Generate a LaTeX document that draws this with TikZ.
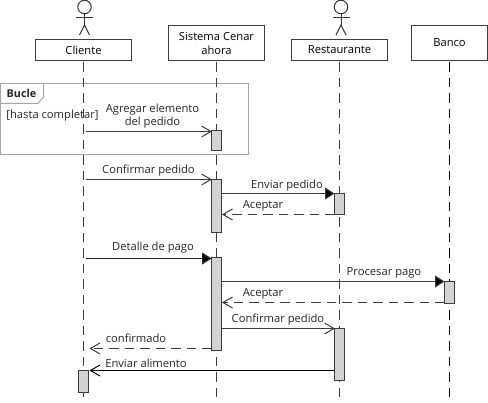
\documentclass[tikz,border=0pt]{standalone}
\usepackage{fontspec}
\setmainfont{Open Sans}
\usetikzlibrary{arrows.meta}
\definecolor{edge}{HTML}{3C3C3C}
\definecolor{act}{HTML}{D3D3D6}
\pgfdeclarearrow{
  name=VBarb,
  setup code={\pgfarrowssettipend{0pt}\pgfarrowssetlineend{-1pt}\pgfarrowssetvisualbackend{-10pt}\pgfarrowssetbackend{-10pt}},
  drawing code={\pgfsetdash{}{0pt}\pgfsetlinewidth{1pt}\pgfsetmiterjoin\pgfpathmoveto{\pgfpoint{-10pt}{5.5pt}}\pgfpathlineto{\pgfpoint{-0.5pt}{0pt}}\pgfpathlineto{\pgfpoint{-10pt}{-5.5pt}}\pgfusepathqstroke}
}
\tikzset{
  x=1pt,y=-1pt,
  outer sep=0pt,
  head/.style={draw=edge,line width=1.1pt,fill=white,anchor=north west,inner sep=0pt,align=center,font=\fontsize{11.2}{14}\selectfont},
  actbar/.style={draw=edge,line width=1.1pt,fill=act,inner sep=0pt,minimum width=10pt,anchor=north},
  life/.style={draw=edge,line width=1.1pt,dash pattern=on 9.5pt off 6pt},
  msg/.style={draw=edge,line width=1.1pt},
  retmsg/.style={msg,dash pattern=on 9.5pt off 6pt},
  opentip/.style={-VBarb},
  filltip/.style={-{Triangle[length=9.5pt,width=12pt,fill=black]}},
  lbl/.style={inner sep=0pt,font=\fontsize{11.2}{13.5}\selectfont,text=black!85,align=center},
  fig/.style={draw=black!80,line width=1pt}
}
\begin{document}
\begin{tikzpicture}
\useasboundingbox (0,0) rectangle (488,403);
% frame
\node[draw=black!35,line width=1pt,minimum width=248pt,minimum height=71pt,inner sep=0pt,anchor=north west] (frame) at (0.5,83.5) {};
\coordinate (t0) at (43.5,83.5);
\coordinate (t1) at (43.5,97);
\coordinate (t2) at (38,103.5);
\coordinate (t3) at (0.5,103.5);
\draw[draw=black!35,line width=1pt] (t0) -- (t1) -- (t2) -- (t3);
% heads
\node[head,minimum width=96pt,minimum height=21pt] (cli) at (35.5,39.5) {Cliente};
\node[head,minimum width=96pt,minimum height=35pt] (sis) at (168.5,25.5) {Sistema Cenar\\ahora};
\node[head,minimum width=96pt,minimum height=21pt] (res) at (291.5,39.5) {Restaurante};
\node[head,minimum width=76pt,minimum height=35pt] (ban) at (411.5,25.5) {Banco};
% lifeline ends
\coordinate (ecli) at (cli.south |- 0,403);
\coordinate (esis) at (sis.south |- 0,403);
\coordinate (eres) at (res.south |- 0,403);
\coordinate (eban) at (ban.south |- 0,403);
\draw[life] (cli.south) ++(0,2) -- (ecli);
\draw[life] (sis.south) ++(0,2) -- (esis);
\draw[life] (res.south) ++(0,2) -- (eres);
\draw[life,draw=black] (ban.south) ++(0,2) -- (eban);
% actors
\foreach \n/\cx in {a/84.5,b/341}{
  \node[circle,fig,fill=white,minimum size=13.5pt,inner sep=0pt] (\n head) at (\cx,7) {};
  \coordinate (\n hip) at (\cx,25);
  \coordinate (\n la) at (\cx-8.5,18);
  \coordinate (\n ra) at (\cx+8.5,18);
  \coordinate (\n ll) at (\cx-5,35);
  \coordinate (\n rl) at (\cx+5,35);
  \draw[fig] (\n head.south) -- (\n hip);
  \draw[fig] (\n la) -- (\n ra);
  \draw[fig] (\n ll) -- (\n hip) -- (\n rl);
}
% activations
\node[actbar,minimum height=20pt] (s1) at (216.5,130.5) {};
\node[actbar,minimum height=53pt] (s2) at (216.5,179.5) {};
\node[actbar,minimum height=93pt] (s3) at (216.5,257.5) {};
\node[actbar,minimum height=21pt] (r1) at (339.5,193.5) {};
\node[actbar,minimum height=52pt] (r2) at (339.5,328.5) {};
\node[actbar,minimum height=22pt] (b1) at (449.5,281.5) {};
\node[actbar,minimum height=22pt] (c1) at (83.5,370.5) {};
% free ends
\coordinate (p1) at (86,131.5);
\coordinate (p2) at (86,179.5);
\coordinate (p3) at (86,258.5);
\coordinate (p4) at (90,348.5);
\coordinate (p5) at (90,370.5);
% messages
\draw[msg,opentip] (p1) -- (s1.west |- p1);
\draw[msg,opentip] (p2) -- (s2.west |- p2);
\coordinate (m3) at (s2.east |- 0,193.5);
\draw[msg,filltip] (m3) -- (r1.west |- m3);
\coordinate (m4) at (r1.west |- 0,214.5);
\draw[retmsg,opentip] (m4) -- ([xshift=1pt]s2.east |- m4);
\draw[msg,filltip,draw=black!85] (p3) -- (s3.west |- p3);
\coordinate (m6) at (s3.east |- 0,281.5);
\draw[msg,filltip] (m6) -- (b1.west |- m6);
\coordinate (m7) at (b1.west |- 0,302.5);
\draw[retmsg,opentip] (m7) -- ([xshift=1pt]s3.east |- m7);
\coordinate (m8) at (s3.east |- 0,328.5);
\draw[msg,opentip] (m8) -- (r2.west |- m8);
\coordinate (m9) at (s3.west |- p4);
\draw[retmsg,opentip] (m9) -- (p4);
\coordinate (m10) at (r2.west |- p5);
\draw[draw=black,line width=1pt,opentip] (m10) -- (p5);
% labels
\node[lbl,font=\fontsize{10.8}{13}\selectfont\bfseries] (lb) at (21.5,93.5) {Bucle};
\node[lbl] (lh) at (52.5,115.5) {[hasta completar]};
\node[lbl] (l1) at (152.5,116) {Agregar elemento\\del pedido};
\node[lbl] (l2) at (148.5,170.5) {Confirmar pedido};
\node[lbl] (l3) at (287,185.5) {Enviar pedido};
\node[lbl] (l4) at (263,205.5) {Aceptar};
\node[lbl] (l5) at (153,248) {Detalle de pago};
\node[lbl] (l6) at (384,273) {Procesar pago};
\node[lbl] (l7) at (263,293.5) {Aceptar};
\node[lbl] (l8) at (278,320) {Confirmar pedido};
\node[lbl] (l9) at (136,338) {confirmado};
\node[lbl] (l10) at (146,363) {Enviar alimento};
\end{tikzpicture}
\end{document}
